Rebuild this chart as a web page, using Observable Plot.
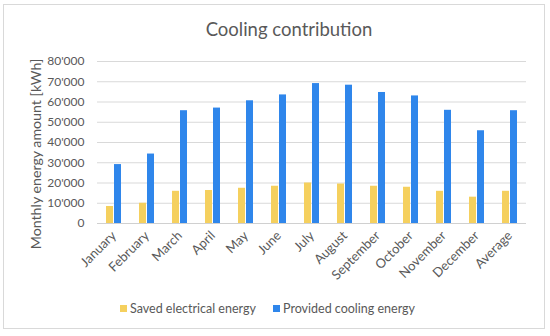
<!DOCTYPE html>
<html>
<head>
<meta charset="utf-8">
<script src="https://cdn.jsdelivr.net/npm/d3@7"></script>
<script src="https://cdn.jsdelivr.net/npm/@observablehq/plot@0.6"></script>
<style>
  html, body { margin: 0; padding: 0; background: #fff; }
  body { width: 550px; height: 336px; position: relative; overflow: hidden; font-family: Lato, sans-serif; color: #595959; }
  #frame { position: absolute; left: 3px; top: 4px; width: 542px; height: 325px; border: 1px solid #d9d9d9; box-sizing: border-box; }
  #title { position: absolute; left: 0; width: 578px; top: 17px; text-align: center; font-size: 18.5px; line-height: 24px; }
  #ylabel { position: absolute; left: 35px; top: 154px; transform: translate(-50%, -50%) rotate(-90deg); white-space: nowrap; font-size: 14.2px; }
  #chart { position: absolute; left: 0; top: 40px; }
  #legend { position: absolute; top: 301px; left: 0; width: 550px; font-size: 12.5px; line-height: 16px; }
  .item { position: absolute; white-space: nowrap; }
  .sw { display: inline-block; width: 7px; height: 7px; margin-right: 3px; vertical-align: 1px; }
</style>
</head>
<body>
<div id="frame"></div>
<div id="title">Cooling contribution</div>
<div id="chart"></div>
<div id="ylabel">Monthly energy amount [kWh]</div>
<div id="legend"></div>
<script>
const months = ["January", "February", "March", "April", "May", "June", "July", "August", "September", "October", "November", "December", "Average"];
const series = ["Saved electrical energy", "Provided cooling energy"];
const saved = [8400, 10000, 15900, 16300, 17400, 18400, 20000, 19500, 18400, 17900, 15900, 13000, 15900];
const provided = [29100, 34300, 55700, 57000, 60600, 63500, 69100, 68300, 64700, 63000, 55900, 45800, 55700];
const yTicks = [0, 10000, 20000, 30000, 40000, 50000, 60000, 70000, 80000];
const colors = ["#f5d05e", "#2f86eb"];

const data = months.flatMap((m, i) => [
  {month: m, series: series[0], value: saved[i]},
  {month: m, series: series[1], value: provided[i]}
]);

const fmt = d3.formatLocale({decimal: ".", thousands: "'", grouping: [3], currency: ["", ""]}).format(",");

const chart = Plot.plot({
  width: 550,
  height: 250,
  marginLeft: 95,
  marginRight: 22,
  marginTop: 21,
  marginBottom: 67,
  style: {fontFamily: "Lato, sans-serif", fontSize: "12px", color: "#595959", background: "transparent", overflow: "visible"},
  fx: {domain: months, padding: 0, label: null, axis: null},
  x: {domain: series, paddingInner: 0.11, paddingOuter: 0.9, axis: null},
  y: {domain: [0, 80000]},
  color: {domain: series, range: colors},
  marks: [
    Plot.gridY(yTicks, {stroke: "#d9d9d9", strokeOpacity: 1}),
    Plot.axisY(yTicks, {tickSize: 0, tickPadding: 13, tickFormat: fmt, label: null, fontSize: 12}),
    Plot.axisFx({anchor: "bottom", tickRotate: -45, tickSize: 0, tickPadding: 10, label: null, fontSize: 13}),
    Plot.barY(data, {fx: "month", x: "series", y: "value", fill: "series"}),
    Plot.ruleY([0], {stroke: "#d0d0d0"})
  ]
});
document.getElementById("chart").appendChild(chart);

const legend = document.getElementById("legend");
const lx = [120, 273];
series.forEach((s, i) => {
  const it = document.createElement("div");
  it.className = "item";
  it.style.left = lx[i] + "px";
  const sw = document.createElement("span");
  sw.className = "sw";
  sw.style.background = colors[i];
  it.appendChild(sw);
  it.appendChild(document.createTextNode(s));
  legend.appendChild(it);
});
</script>
</body>
</html>
